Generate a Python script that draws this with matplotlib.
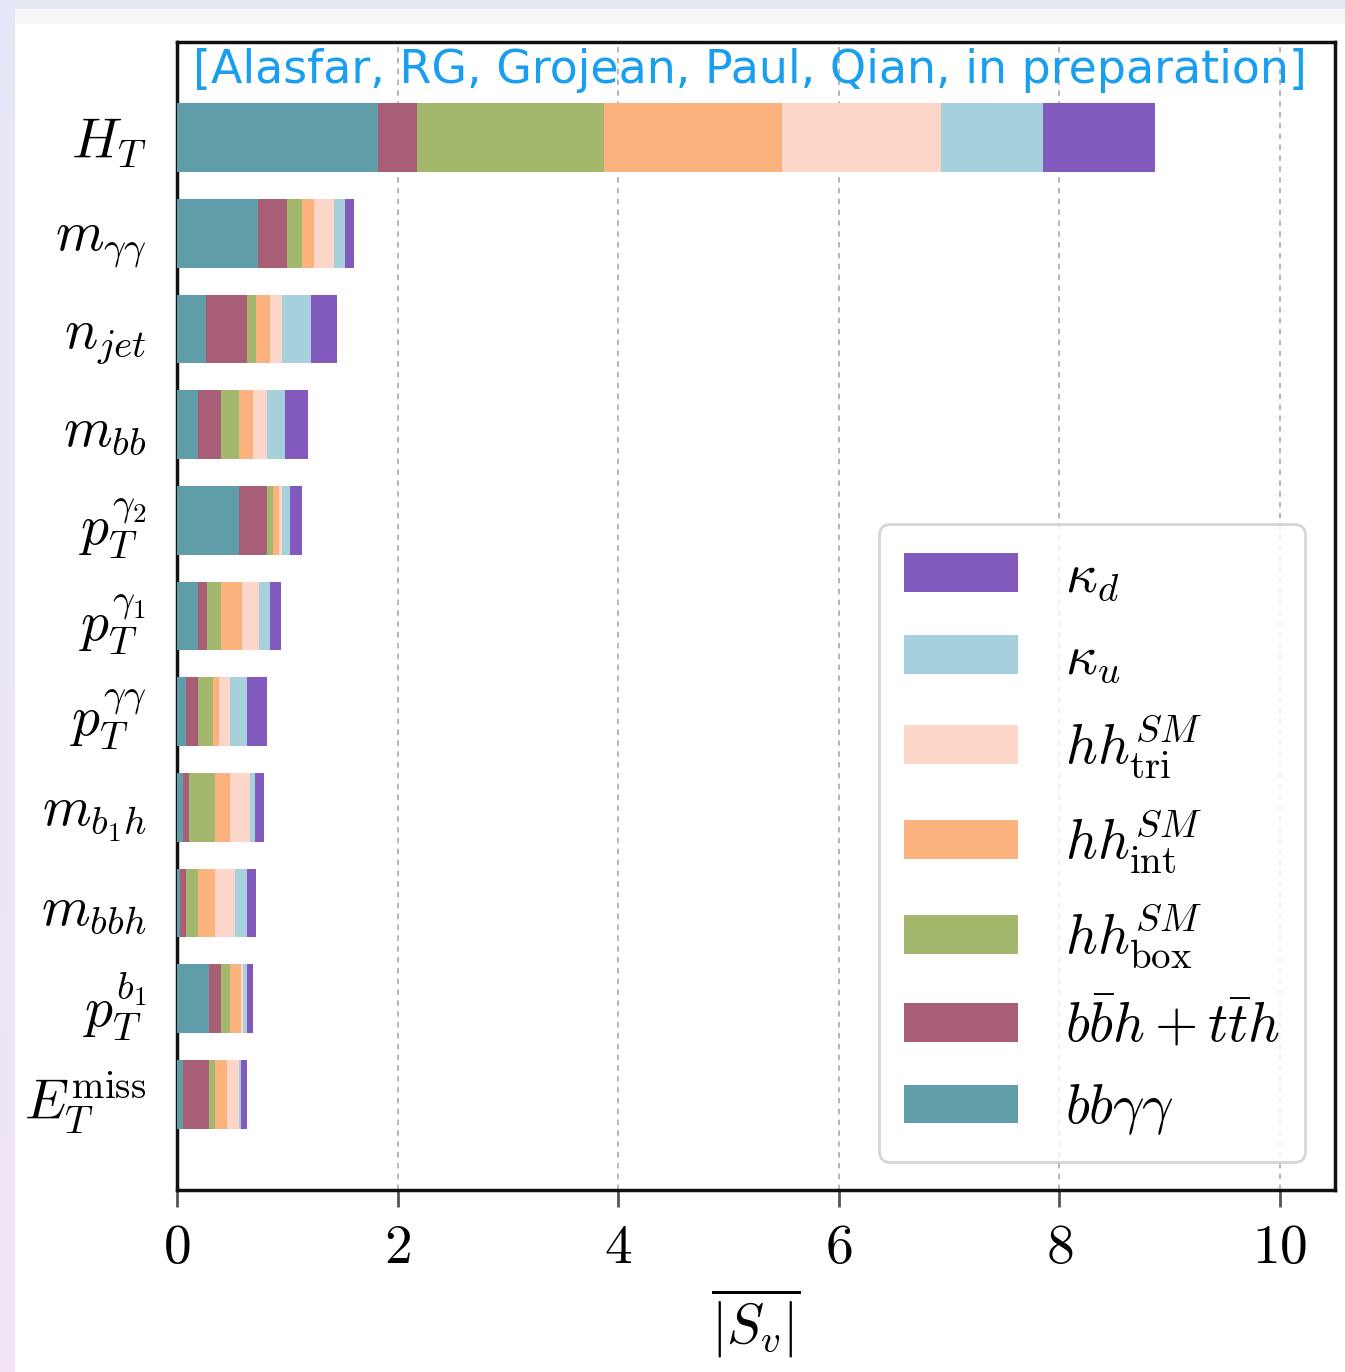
import matplotlib
matplotlib.use("Agg")
import matplotlib.pyplot as plt
import numpy as np
from matplotlib.patches import Rectangle

# ---------------- data ----------------
categories = [r"$H_T$", r"$m_{\gamma\gamma}$", r"$n_{jet}$", r"$m_{bb}$",
              r"$p_T^{\gamma_2}$", r"$p_T^{\gamma_1}$", r"$p_T^{\gamma\gamma}$",
              r"$m_{b_1h}$", r"$m_{bbh}$", r"$p_T^{b_1}$", r"$E_T^{\rm miss}$"]

bbaa    = [1.82, 0.737, 0.263, 0.190, 0.559, 0.190, 0.082, 0.054, 0.027, 0.293, 0.057]
bbh_tth = [0.36, 0.263, 0.374, 0.211, 0.259, 0.079, 0.109, 0.054, 0.054, 0.109, 0.236]
hh_box  = [1.69, 0.133, 0.079, 0.158, 0.054, 0.132, 0.133, 0.236, 0.109, 0.079, 0.054]
hh_int  = [1.62, 0.109, 0.127, 0.127, 0.054, 0.188, 0.054, 0.133, 0.157, 0.097, 0.109]
hh_tri  = [1.44, 0.181, 0.109, 0.132, 0.024, 0.151, 0.102, 0.181, 0.181, 0.024, 0.103]
kappa_u = [0.92, 0.102, 0.260, 0.158, 0.079, 0.102, 0.157, 0.048, 0.109, 0.031, 0.018]
kappa_d = [1.02, 0.079, 0.236, 0.211, 0.102, 0.102, 0.181, 0.085, 0.079, 0.054, 0.060]

series_labels = [r"$bb\gamma\gamma$", r"$b\bar{b}h+t\bar{t}h$", r"$hh^{SM}_{\rm box}$",
                 r"$hh^{SM}_{\rm int}$", r"$hh^{SM}_{\rm tri}$", r"$\kappa_u$", r"$\kappa_d$"]
series_colors = ["#5F9EA8", "#A85E76", "#A3B86C", "#FBB27C", "#FDD6CA", "#A5D0DC", "#825ABE"]

xticks = [0, 2, 4, 6, 8, 10]
annotation = "[Alasfar, RG, Grojean, Paul, Qian, in preparation]"

# ---------------- style ----------------
plt.rcParams["mathtext.fontset"] = "cm"
plt.rcParams["font.family"] = ["DejaVu Serif"]

W, H = 1345, 1372
fig = plt.figure(figsize=(W / 100, H / 100), dpi=100)
fig.patch.set_facecolor("white")

# slide-like border decoration
bg = fig.add_axes([0, 0, 15 / W, 1])
grad = np.linspace(0, 1, 256)[:, None]
c_top = np.array([230, 232, 246]) / 255
c_bot = np.array([242, 228, 246]) / 255
img = (c_top[None, None, :] * (1 - grad[..., None]) + c_bot[None, None, :] * grad[..., None])
bg.imshow(img, aspect="auto", extent=[0, 1, 0, 1])
bg.axis("off")
fig.add_artist(Rectangle((0, 1 - 9 / H), 1, 9 / H, color="#E6E8F6", transform=fig.transFigure, zorder=0))
fig.add_artist(Rectangle((15 / W, 1 - 23 / H), 1, 14 / H, color="#F7F7F8", transform=fig.transFigure, zorder=0))

ax = fig.add_axes([177 / W, (H - 1190) / H, (1335 - 177) / W, (1190 - 42) / H])

series = [bbaa, bbh_tth, hh_box, hh_int, hh_tri, kappa_u, kappa_d]
y = np.arange(len(categories))
left = np.zeros(len(categories))
handles = []
for vals, lab, col in zip(series, series_labels, series_colors):
    vals = np.array(vals)
    b = ax.barh(y, vals, left=left, height=0.72, color=col, label=lab, zorder=3)
    handles.append(b)
    left += vals

ax.set_ylim(len(categories), -1)
ax.set_xlim(0, 10.5)
ax.set_yticks(y)
ax.set_yticklabels(categories, fontsize=40)
ax.set_xticks(xticks)
ax.set_xticklabels([rf"${t}$" for t in xticks], fontsize=40)
ax.tick_params(axis="y", length=0, pad=22)
ax.tick_params(axis="x", length=12, width=2, color="#555555", pad=10)
ax.grid(axis="x", linestyle=(0, (3, 3)), color="#b0b0b0", linewidth=1.3, zorder=0)
for s in ax.spines.values():
    s.set_linewidth(2.5)
    s.set_color("#111111")

ax.set_xlabel(r"$\overline{|S_v|}$", fontsize=40, labelpad=8)

ax.text(0.014, 0.995, annotation, transform=ax.transAxes, ha="left", va="top",
        fontsize=33, color="#1A9EF0", family=["DejaVu Sans"], zorder=5)

leg = ax.legend(handles[::-1], series_labels[::-1], loc="lower right",
                bbox_to_anchor=(0.974, 0.024), borderaxespad=0, fontsize=40,
                handlelength=2.05, handleheight=0.7, handletextpad=0.85,
                labelspacing=0.49, borderpad=0.45, fancybox=True, framealpha=0.8)
leg.get_frame().set_edgecolor("#cccccc")
leg.get_frame().set_linewidth(2)

fig.savefig("out.png", dpi=100)
